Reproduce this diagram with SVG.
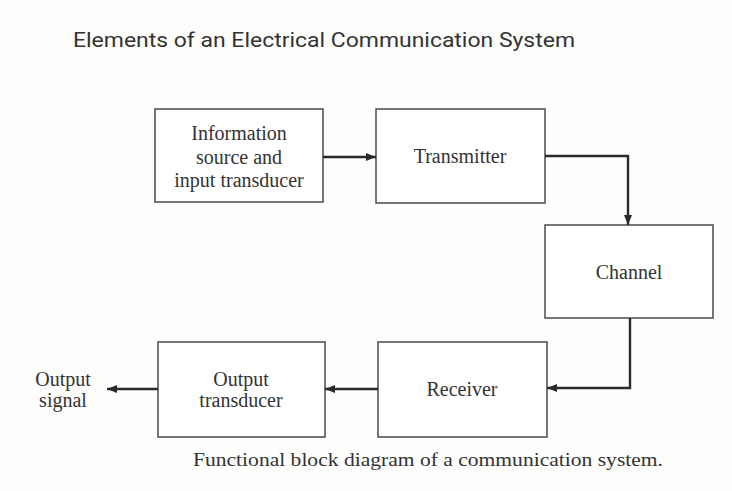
<svg xmlns="http://www.w3.org/2000/svg" width="732" height="491" viewBox="0 0 732 491">
  <style>
    .box { fill: #ffffff; stroke: #555; stroke-width: 1.6; }
    .lbl { font-family: "Liberation Serif", "Times New Roman", serif; font-size: 20px; fill: #333; text-anchor: middle; }
    .wire { fill: none; stroke: #2a2a2a; stroke-width: 2.4; marker-end: url(#arrow); }
    .title { font-family: "Roboto", "Liberation Sans", Arial, sans-serif; font-size: 20px; fill: #333; }
    .caption { font-family: "Liberation Serif", "Times New Roman", serif; font-size: 18px; fill: #333; }
  </style>
  <defs>
    <marker id="arrow" viewBox="0 0 10 8" refX="10" refY="4" markerWidth="11" markerHeight="8" markerUnits="userSpaceOnUse" orient="auto">
      <path d="M0,0 L10,4 L0,8 Z" fill="#2a2a2a"/>
    </marker>
  </defs>
  <rect width="732" height="491" fill="#fdfdfc"/>

  <text class="title" x="73" y="47" textLength="502" lengthAdjust="spacingAndGlyphs">Elements of an Electrical Communication System</text>

  <g id="source">
    <rect class="box" x="155" y="109" width="168" height="93"/>
    <text class="lbl" x="239" y="140">Information</text>
    <text class="lbl" x="239" y="164">source and</text>
    <text class="lbl" x="239" y="187">input transducer</text>
  </g>
  <g id="transmitter">
    <rect class="box" x="376" y="109" width="169" height="94"/>
    <text class="lbl" x="460" y="163">Transmitter</text>
  </g>
  <g id="channel">
    <rect class="box" x="545" y="225" width="168" height="93"/>
    <text class="lbl" x="629" y="279">Channel</text>
  </g>
  <g id="receiver">
    <rect class="box" x="378" y="342" width="169" height="95"/>
    <text class="lbl" x="462" y="396">Receiver</text>
  </g>
  <g id="output-transducer">
    <rect class="box" x="158" y="342" width="167" height="95"/>
    <text class="lbl" x="241" y="386">Output</text>
    <text class="lbl" x="241" y="407">transducer</text>
  </g>
  <g id="output-signal">
    <text class="lbl" x="63" y="386">Output</text>
    <text class="lbl" x="63" y="407">signal</text>
  </g>

  <g id="connectors">
    <path class="wire" d="M323,157 H376"/>
    <path class="wire" d="M545,156 H628 V225"/>
    <path class="wire" d="M630,318 V388 H547"/>
    <path class="wire" d="M378,389 H325"/>
    <path class="wire" d="M158,389 H107"/>
  </g>

  <text class="caption" x="193" y="466" textLength="470" lengthAdjust="spacingAndGlyphs">Functional block diagram of a communication system.</text>
</svg>
